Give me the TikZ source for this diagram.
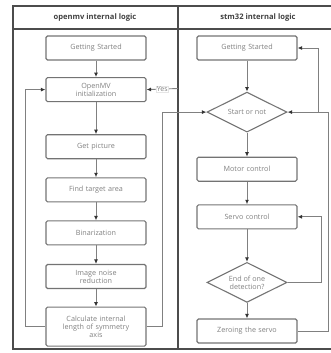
\documentclass[tikz,border=0pt]{standalone}
\usepackage{fontspec}
\setmainfont{Open Sans}
\usetikzlibrary{shapes.geometric, arrows.meta, positioning, calc}
\tikzset{block/.style={draw=black!55, line width=1.1pt, rectangle, rounded corners=1.5pt,
            minimum height=24pt, minimum width=100pt, text width=94pt, align=center,
            inner sep=1pt, text=black!50, font=\fontsize{7.2}{8.2}\selectfont},
         decision/.style={draw=black!55, line width=1.1pt, diamond, aspect=2, inner sep=0pt,
            minimum width=80pt, minimum height=40pt, align=center,
            text=black!50, font=\fontsize{7.2}{8.2}\selectfont},
         line/.style={draw=black!50, line width=0.9pt},
         frame/.style={draw=black!70, line width=1.3pt},
         lane/.style={font=\bfseries\fontsize{7.6}{8.6}\selectfont, text=black!75},
         >={Latex[length=4.5pt,width=4pt,color=black!80]}}
\begin{document}
\begin{tikzpicture}[x=1pt, y=-1pt, node distance=18pt]
    \useasboundingbox (0,0) rectangle (331,353);
    % swimlane frame
    \draw[frame] (331,6) -| (13,349) -- (331,349);
    \draw[frame] (13,29) -- (331,29);
    \draw[frame] (178,6) -- (178,349);
    \node[lane] (lane1) at (95,17.5) {openmv internal logic};
    \node[lane] (lane2) at (258,17.5) {stm32 internal logic};

    % openmv side
    \node[block] (gs1) at (96,48) {Getting Started};
    \node[block, below=16.5pt of gs1] (init) {OpenMV\\initialization};
    \node[block, below=32pt of init] (pic) {Get picture};
    \node[block, below=18pt of pic] (area) {Find target area};
    \node[block, below=18pt of area] (bin) {Binarization};
    \node[block, below=18.5pt of bin] (noise) {Image noise\\reduction};
    \node[block, below=17.5pt of noise, minimum height=39pt] (calc) {Calculate internal\\length of symmetry\\axis};

    % stm32 side
    \node[block] (gs2) at (247,48) {Getting Started};
    \node[decision, below=31pt of gs2] (start) {Start or not};
    \node[block, below=24pt of start] (motor) {Motor control};
    \node[block, below=22.5pt of motor] (servo) {Servo control};
    \node[decision, below=32.5pt of servo] (end) {End of one\\detection?};
    \node[block, below=15.5pt of end] (zero) {Zeroing the servo};

    \coordinate (yes) at (178,88.5);
    \coordinate (join) at ($(start.east)+(31,0)$);

    \draw[line,->] (gs1) -- (init);
    \draw[line,->] (init) -- (pic);
    \draw[line,->] (pic) -- (area);
    \draw[line,->] (area) -- (bin);
    \draw[line,->] (bin) -- (noise);
    \draw[line,->] (noise) -- (calc);
    \draw[line,->] (calc.west) -- ++(-20,0) |- (init.west);
    \draw[line,->] (calc.east) -- ++(16,0) |- (start.west);
    \draw[line,->] (yes) -- node[fill=white, draw=gray!20, inner sep=0.5pt, text=black!50,
        font=\fontsize{7}{8}\selectfont] {Yes} (init.east);

    \draw[line,->] (gs2) -- (start);
    \draw[line,->] (start) -- (motor);
    \draw[line,->] (motor) -- (servo);
    \draw[line,->] (servo) -- (end);
    \draw[line,->] (end) -- (zero);
    \draw[line,->] (end.east) -- ++(34,0) |- (servo.east);
    \draw[line,->] (zero.east) -- ++(31,0) |- (start.east);
    \draw[line,->] (join) |- (gs2.east);
\end{tikzpicture}
\end{document}
